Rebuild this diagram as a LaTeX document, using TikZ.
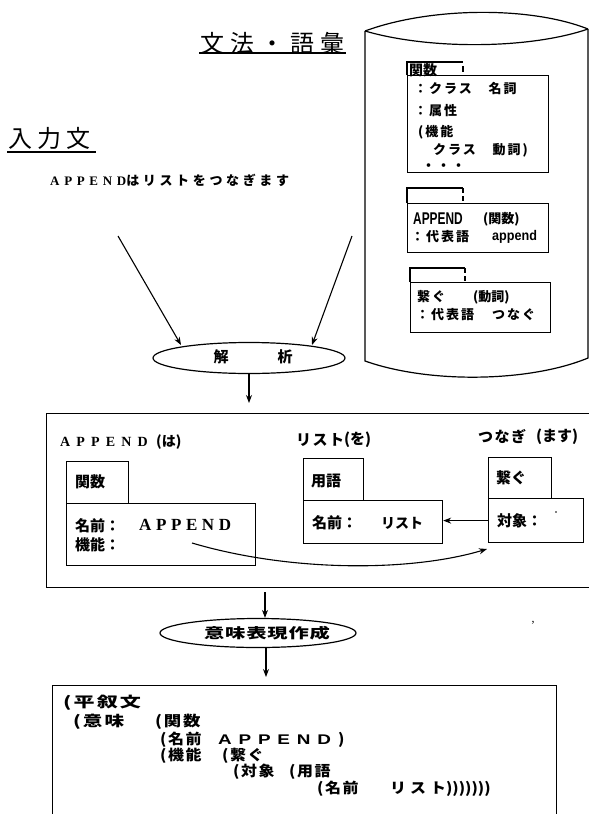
\documentclass[tikz,border=0pt]{standalone}
\usepackage{fontspec}
\setmainfont{Liberation Serif}
\newfontfamily\jp{Noto Sans CJK JP}
\newfontfamily\lsans{Liberation Sans}
\usetikzlibrary{shapes.geometric,arrows.meta}
\newcommand\J[2]{{\jp\bfseries\fontsize{#1}{#1}\selectfont #2}}
\newcommand\JL[3]{{\jp\bfseries\fontsize{#1}{#1}\selectfont\addfontfeature{LetterSpace=#2}#3}}
\newcommand\JR[3]{{\jp\fontsize{#1}{#1}\selectfont\addfontfeature{LetterSpace=#2}#3}}
\newcommand\SL[3]{{\rmfamily\bfseries\fontsize{#1}{#1}\selectfont\addfontfeature{LetterSpace=#2}#3}}
\newcommand\HL[3]{{\lsans\bfseries\fontsize{#1}{#1}\selectfont\addfontfeature{LetterSpace=#2}#3}}
\newcommand\K[3]{\scalebox{#1}[1]{\JL{14.5}{#2}{#3}}}
\tikzset{
  ln/.style={line width=1.2pt},
  arr/.style={line width=1.1pt,-{Stealth[length=8pt,width=6pt]}},
  rec/.style={draw,line width=1.2pt,rectangle,anchor=north west,inner sep=0pt},
  txt/.style={anchor=west,inner sep=0pt},
  lens/.style={draw,line width=1.2pt,ellipse,inner sep=0pt},
}
\begin{document}
\begin{tikzpicture}[x=1pt,y=-1pt]
\useasboundingbox (0,0) rectangle (589,814);
\clip (0,0) rectangle (589,814);
\fill[white] (0,0) rectangle (589,814);

% ---- titles ----
\node[txt] (ttl) at (200,43) {\JR{24}{25}{文法・語彙}};
\draw[ln] (199,53) -- (346,53);
\node[txt] (inp) at (8,138) {\JR{24}{21}{入力文}};
\draw[ln] (7,152) -- (96,152);
\node[txt] (sent) at (50,180) {\SL{13}{36}{APPEND}\JL{13}{28}{はリストをつなぎます}};

% ---- cylinder (dictionary) ----
\draw[ln] (365,31) -- (365,361) .. controls (430,384) and (530,382) .. (588,358) -- (588,29);
\draw[ln] (365,31) .. controls (430,7) and (530,6) .. (588,29);
\draw[ln] (365,31) .. controls (430,50) and (530,49) .. (588,29);

% record 1
\node[rec,minimum width=141pt,minimum height=97pt] (r1) at (407,75) {};
\draw[ln] (r1.north west) -- (407,62) -- (463,62);
\draw[ln] (463,66) -- (463,72);
\node[txt] (r1t) at (409,70) {\J{14}{関数}};
\node[txt] (r1a) at (414,89) {\JL{13}{15}{：クラス　名詞}};
\node[txt] (r1b) at (414,111) {\JL{13}{15}{：属性}};
\node[txt] (r1c) at (418,132) {\JL{13}{15}{(機能}};
\node[txt] (r1d) at (433,150) {\JL{13}{15}{クラス　動詞)}};
\node[txt] (r1e) at (422,167) {\JL{13}{15}{・・・}};

% record 2
\node[rec,minimum width=141pt,minimum height=49pt] (r2) at (407,203) {};
\draw[ln] (r2.north west) -- (407,188) -- (463,188);
\draw[ln,dash pattern=on 5pt off 3pt] (463,188) -- (463,203);
\node[txt] (r2a) at (413,219) {\scalebox{0.7}[1]{\HL{17}{0}{APPEND}}};
\node[txt] (r2b) at (483,219) {\J{13}{(関数)}};
\node[txt] (r2c) at (411,237) {\JL{13}{15}{：代表語}};
\node[txt] (r2d) at (492,237) {\scalebox{0.9}[1]{\HL{14}{0}{append}}};

% record 3
\node[rec,minimum width=140pt,minimum height=50pt] (r3) at (410,282) {};
\draw[ln] (r3.north west) -- (410,268) -- (465,268);
\draw[ln,dash pattern=on 5pt off 3pt] (465,268) -- (465,282);
\node[txt] (r3a) at (417,297) {\JL{13}{15}{繋ぐ}};
\node[txt] (r3b) at (473,297) {\J{13}{(動詞)}};
\node[txt] (r3c) at (416,315) {\JL{13}{15}{：代表語}};
\node[txt] (r3d) at (492,315) {\JL{13}{15}{つなぐ}};

% ---- parsing ----
\node[lens,minimum width=192pt,minimum height=31pt] (parse) at (249,358) {};
\node (k1) at (221,357) {\J{15}{解}};
\node (k2) at (285,357) {\J{15}{析}};
\coordinate (s1) at (118,236);
\coordinate (e1) at (181,345);
\coordinate (s2) at (352,236);
\coordinate (e2) at (312,345);
\draw[arr] (s1) -- (e1);
\draw[arr] (s2) -- (e2);

% ---- main box ----
\node[rec,minimum width=560pt,minimum height=174pt] (mb) at (46,413) {};
\draw[arr,shorten >=10pt] (parse.south) -- (parse.south |- mb.north);

\node[txt] (l1) at (60,442) {\SL{14}{44}{APPEND}};
\node[txt] (l1b) at (156,442) {\J{14}{(は)}};
\node[txt] (l2) at (296,440) {\JL{15}{10}{リスト}};
\node[txt] (l2b) at (344,440) {\J{15}{(を)}};
\node[txt] (l3) at (478,437) {\JL{15}{10}{つなぎ}};
\node[txt] (l3b) at (536,437) {\J{15}{(ます)}};

\node[rec,minimum width=62pt,minimum height=42pt] (t1) at (66,461) {};
\node[rec,minimum width=189pt,minimum height=62pt] (b1) at (66,503) {};
\node[txt] (t1x) at (75,482) {\J{15}{関数}};
\node[txt] (b1a) at (75,526) {\J{15}{名前：}};
\node[txt] (b1b) at (139,525) {\SL{17}{27}{APPEND}};
\node[txt] (b1c) at (75,545) {\J{15}{機能：}};

\node[rec,minimum width=60pt,minimum height=42pt] (t2) at (303,458) {};
\node[rec,minimum width=139pt,minimum height=43pt] (b2) at (303,500) {};
\node[txt] (t2x) at (311,481) {\J{15}{用語}};
\node[txt] (b2a) at (312,523) {\J{15}{名前：}};
\node[txt] (b2b) at (381,523) {\J{14}{リスト}};

\node[rec,minimum width=63pt,minimum height=41pt] (t3) at (488,457) {};
\node[rec,minimum width=95pt,minimum height=44pt] (b3) at (488,498) {};
\node[txt] (t3x) at (496,478) {\J{15}{繋ぐ}};
\node[txt] (b3a) at (497,521) {\J{15}{対象：}};
\fill (556,512) circle (0.8pt);

\draw[arr] (b3.west) -- (b3.west -| b2.east);
\coordinate (c1) at (192,543);
\coordinate (c2) at (487,549);
\draw[arr] (c1) .. controls (290,572) and (410,572) .. (c2);

% ---- semantic representation ----
\node[lens,minimum width=196pt,minimum height=29pt] (mk) at (258,633) {};
\node (mkt) at (267,633) {\scalebox{1.45}[1]{\JL{14}{4}{意味表現作成}}};
\coordinate (a3s) at (265,592);
\draw[arr] (a3s) -- (a3s |- mk.north);
\node (cm) at (533,623) {\fontsize{12}{12}\selectfont ,};

\node[rec,minimum width=504pt,minimum height=150pt] (lb) at (52,685) {};
\coordinate (a4s) at (266,648);
\draw[arr,shorten >=8pt] (a4s) -- (a4s |- lb.north);

\node[txt] (p1) at (63,703) {\K{1.45}{10}{(平叙文}};
\node[txt] (p2a) at (73,722) {\K{1.35}{10}{(意味}};
\node[txt] (p2b) at (155,722) {\K{1.2}{10}{(関数}};
\node[txt] (p3a) at (160,740) {\K{1.1}{10}{(名前}};
\node[txt] (p3b) at (218,740) {\scalebox{1.35}[1]{\HL{14}{36}{APPEND}}};
\node[txt] (p3c) at (338,740) {\K{1.1}{0}{)}};
\node[txt] (p4a) at (160,756) {\K{1.1}{10}{(機能}};
\node[txt] (p4b) at (222,756) {\K{1.1}{10}{(繋ぐ}};
\node[txt] (p5a) at (233,772) {\K{1.1}{10}{(対象}};
\node[txt] (p5b) at (289,772) {\K{1.1}{10}{(用語}};
\node[txt] (p6a) at (317,789) {\K{1.1}{10}{(名前}};
\node[txt] (p6b) at (390,789) {\K{1.1}{25}{リスト}\K{1.1}{0}{)))))))}};
\end{tikzpicture}
\end{document}
